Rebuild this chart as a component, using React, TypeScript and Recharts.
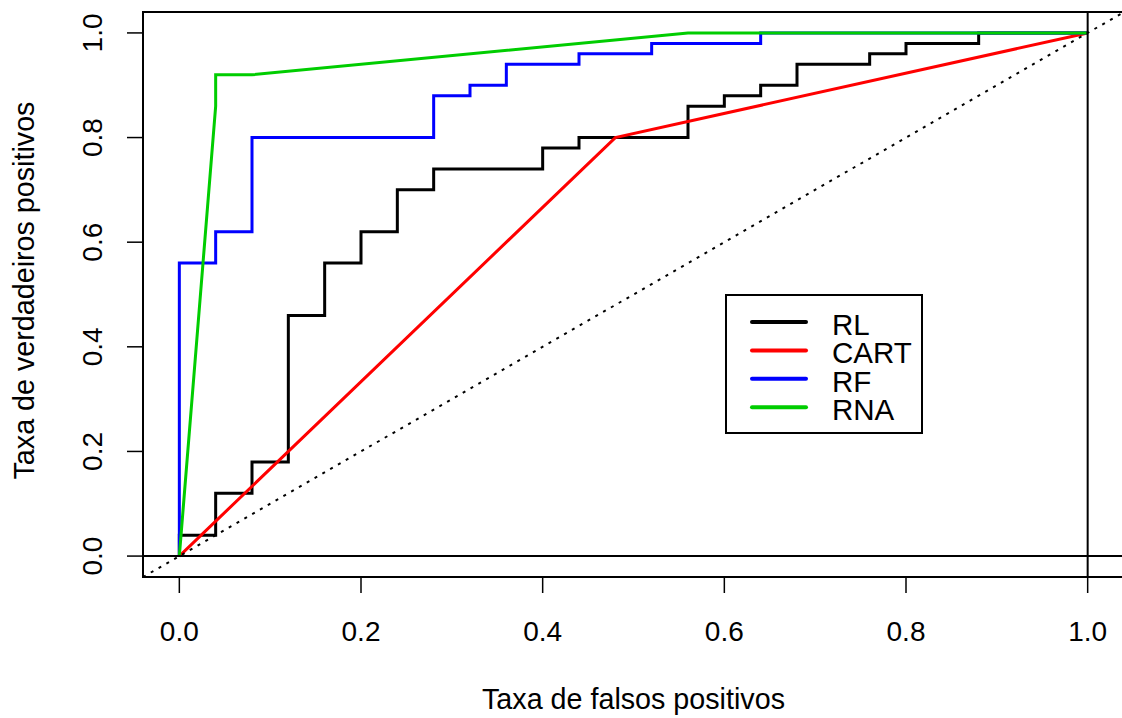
import React from "react";
import {
  ComposedChart,
  Line,
  XAxis,
  YAxis,
  ReferenceLine,
  ReferenceArea,
  Legend,
} from "recharts";

const FONT = '"Liberation Sans", Arial, Helvetica, sans-serif';

// eixos
const axisTicks = [0, 0.2, 0.4, 0.6, 0.8, 1.0];
const axisDomain = [-0.04, 1.04];

// ordem da legenda
const seriesNames = ["RL", "CART", "RF", "RNA"];

// RL (regressão logística)
const rlFpr = [0, 0, 0.04, 0.04, 0.08, 0.08, 0.12, 0.12, 0.16, 0.16, 0.2, 0.2, 0.24, 0.24, 0.28, 0.28, 0.4, 0.4, 0.44, 0.44, 0.56, 0.56, 0.6, 0.6, 0.64, 0.64, 0.68, 0.68, 0.76, 0.76, 0.8, 0.8, 0.88, 0.88, 1.0];
const rlTpr = [0, 0.04, 0.04, 0.12, 0.12, 0.18, 0.18, 0.46, 0.46, 0.56, 0.56, 0.62, 0.62, 0.7, 0.7, 0.74, 0.74, 0.78, 0.78, 0.8, 0.8, 0.86, 0.86, 0.88, 0.88, 0.9, 0.9, 0.94, 0.94, 0.96, 0.96, 0.98, 0.98, 1.0, 1.0];

// CART
const cartFpr = [0, 0.48, 1.0];
const cartTpr = [0, 0.8, 1.0];

// RF
const rfFpr = [0, 0, 0.04, 0.04, 0.08, 0.08, 0.28, 0.28, 0.32, 0.32, 0.36, 0.36, 0.44, 0.44, 0.52, 0.52, 0.64, 0.64, 1.0];
const rfTpr = [0, 0.56, 0.56, 0.62, 0.62, 0.8, 0.8, 0.88, 0.88, 0.9, 0.9, 0.94, 0.94, 0.96, 0.96, 0.98, 0.98, 1.0, 1.0];

// RNA
const rnaFpr = [0, 0.04, 0.04, 0.08, 0.56, 1.0];
const rnaTpr = [0, 0.86, 0.92, 0.92, 1.0, 1.0];

const toPoints = (xs: number[], ys: number[]) => xs.map((x, i) => ({ x, y: ys[i] }));

const rlData = toPoints(rlFpr, rlTpr);
const cartData = toPoints(cartFpr, cartTpr);
const rfData = toPoints(rfFpr, rfTpr);
const rnaData = toPoints(rnaFpr, rnaTpr);

function XTick(props: any) {
  const { x, y, payload } = props;
  return (
    <text x={x} y={y + 48} textAnchor="middle" fontSize={28} fontFamily={FONT} fill="#000">
      {Number(payload.value).toFixed(1)}
    </text>
  );
}

function YTick(props: any) {
  const { x, y, payload } = props;
  const tx = x - 25;
  return (
    <text
      x={tx}
      y={y}
      transform={`rotate(-90 ${tx} ${y})`}
      textAnchor="middle"
      fontSize={28}
      fontFamily={FONT}
      fill="#000"
    >
      {Number(payload.value).toFixed(1)}
    </text>
  );
}

function XTitle(props: any) {
  const { viewBox } = props;
  return (
    <text
      x={viewBox.x + viewBox.width / 2}
      y={viewBox.y + 132}
      textAnchor="middle"
      fontSize={28.7}
      fontFamily={FONT}
      fill="#000"
    >
      Taxa de falsos positivos
    </text>
  );
}

function YTitle(props: any) {
  const { viewBox } = props;
  const cx = 34;
  const cy = viewBox.y + viewBox.height / 2 - 4;
  return (
    <text
      x={cx}
      y={cy}
      transform={`rotate(-90 ${cx} ${cy})`}
      textAnchor="middle"
      fontSize={28.7}
      fontFamily={FONT}
      fill="#000"
    >
      Taxa de verdadeiros positivos
    </text>
  );
}

function RocLegend(props: any) {
  const raw = props.payload || [];
  const items = seriesNames
    .map((n) => raw.find((p: any) => p.value === n))
    .filter(Boolean);
  return (
    <svg width={198} height={140} style={{ display: "block" }}>
      <rect x={1} y={1} width={196} height={138} fill="#fff" stroke="#000" strokeWidth={2} />
      {items.map((p: any, i: number) => (
        <g key={p.value}>
          <line
            x1={27}
            x2={81}
            y1={28 + i * 28.4}
            y2={28 + i * 28.4}
            stroke={p.color}
            strokeWidth={4}
            strokeLinecap="round"
          />
          <text x={107} y={41 + i * 28.4} fontSize={29.5} fontFamily={FONT} fill="#000">
            {p.value}
          </text>
        </g>
      ))}
    </svg>
  );
}

export default function App() {
  return (
    <div
      style={{
        position: "absolute",
        left: 0,
        top: 0,
        width: 1122,
        height: 718,
        overflow: "hidden",
        background: "#fff",
      }}
    >
      <ComposedChart
        width={1126}
        height={718}
        margin={{ top: 12, right: 2, left: 0, bottom: 0 }}
      >
        <XAxis
          type="number"
          dataKey="x"
          domain={axisDomain}
          ticks={axisTicks}
          allowDataOverflow
          height={141}
          axisLine={false}
          tickLine={{ stroke: "#000", strokeWidth: 1.5 }}
          tickSize={16}
          tickMargin={0}
          tick={<XTick />}
          label={<XTitle />}
        />
        <YAxis
          type="number"
          dataKey="y"
          domain={axisDomain}
          ticks={axisTicks}
          allowDataOverflow
          width={143}
          axisLine={false}
          tickLine={{ stroke: "#000", strokeWidth: 1.5 }}
          tickSize={16}
          tickMargin={0}
          tick={<YTick />}
          label={<YTitle />}
        />
        <ReferenceArea
          x1={-0.04}
          x2={1.04}
          y1={-0.04}
          y2={1.04}
          fill="none"
          stroke="#000"
          strokeWidth={2}
          ifOverflow="visible"
        />
        <Line data={rlData} dataKey="y" name="RL" type="linear" stroke="#000000" strokeWidth={3} dot={false} activeDot={false} isAnimationActive={false} />
        <Line data={cartData} dataKey="y" name="CART" type="linear" stroke="#FF0000" strokeWidth={3} dot={false} activeDot={false} isAnimationActive={false} />
        <Line data={rfData} dataKey="y" name="RF" type="linear" stroke="#0000FF" strokeWidth={3} dot={false} activeDot={false} isAnimationActive={false} />
        <Line data={rnaData} dataKey="y" name="RNA" type="linear" stroke="#00CD00" strokeWidth={3} dot={false} activeDot={false} isAnimationActive={false} />
        <ReferenceLine
          segment={[
            { x: -0.04, y: -0.04 },
            { x: 1.04, y: 1.04 },
          ]}
          stroke="#000"
          strokeWidth={2}
          strokeDasharray="3 6"
          ifOverflow="visible"
        />
        <ReferenceLine y={0} stroke="#000" strokeWidth={2} />
        <ReferenceLine x={1} stroke="#000" strokeWidth={2} />
        <Legend
          layout="vertical"
          align="center"
          verticalAlign="middle"
          wrapperStyle={{ left: 725, top: 294, width: 198, height: 140 }}
          content={<RocLegend />}
        />
      </ComposedChart>
    </div>
  );
}
